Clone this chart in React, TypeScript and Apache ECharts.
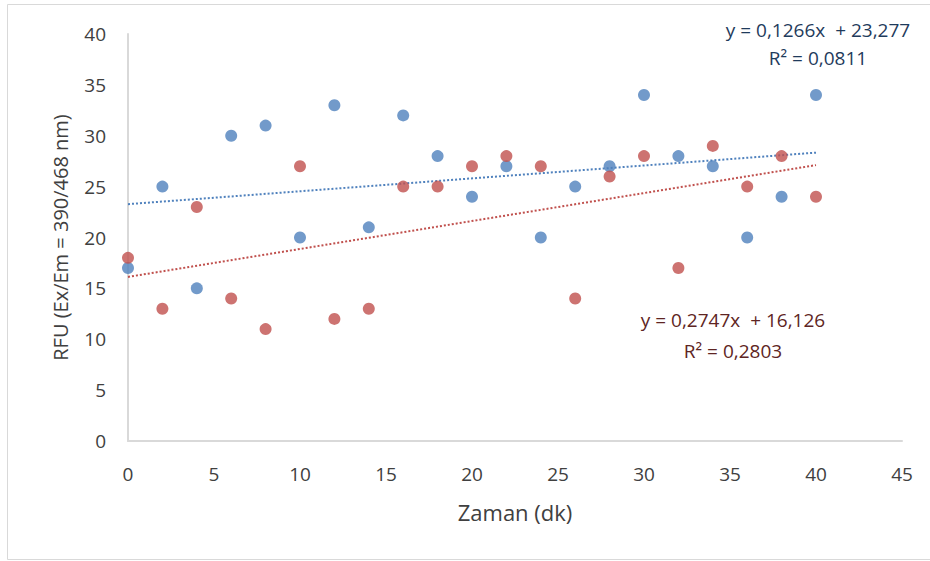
import React, { useEffect, useRef } from "react";
import * as echarts from "echarts";

// Sampling times (min)
const times = [0, 2, 4, 6, 8, 10, 12, 14, 16, 18, 20, 22, 24, 26, 28, 30, 32, 34, 36, 38, 40];
// Fluorescence readings for the two samples
const blueValues = [17, 25, 15, 30, 31, 20, 33, 21, 32, 28, 24, 27, 20, 25, 27, 34, 28, 27, 20, 24, 34];
const redValues = [18, 13, 23, 14, 11, 27, 12, 13, 25, 25, 27, 28, 27, 14, 26, 28, 17, 29, 25, 28, 24];
// Linear trend coefficients [slope, intercept, R²]
const blueTrend = [0.1266, 23.277, 0.0811];
const redTrend = [0.2747, 16.126, 0.2803];

const xTicks = { min: 0, max: 45, interval: 5 };
const yTicks = { min: 0, max: 40, interval: 5 };

const BLUE = "#4f81bd";
const RED = "#c0504d";
const FONT = "Open Sans";

const fmt = (v: number) => String(v).replace(".", ",");

const trendPoints = (t: number[]) => {
  const x0 = times[0];
  const x1 = times[times.length - 1];
  return [
    [x0, t[0] * x0 + t[1]],
    [x1, t[0] * x1 + t[1]],
  ];
};

const eqText = (text: string, x: number, y: number, fill: string) => ({
  type: "text",
  x,
  y,
  silent: true,
  style: {
    text,
    fontFamily: FONT,
    fontSize: 19,
    fill,
    align: "center",
    verticalAlign: "middle",
  },
});

export default function App() {
  const ref = useRef<HTMLDivElement>(null);

  useEffect(() => {
    if (!ref.current) return;
    const chart = echarts.init(ref.current, undefined, { renderer: "svg" });
    chart.setOption({
      animation: false,
      backgroundColor: "#ffffff",
      grid: { left: 128, right: 28, top: 34, bottom: 120 },
      xAxis: {
        type: "value",
        min: xTicks.min,
        max: xTicks.max,
        interval: xTicks.interval,
        name: "Zaman (dk)",
        nameLocation: "middle",
        nameGap: 60,
        nameTextStyle: { fontFamily: FONT, fontSize: 22, color: "#404040" },
        axisLine: { lineStyle: { color: "#d9d9d9", width: 2 } },
        axisTick: { show: false },
        splitLine: { show: false },
        axisLabel: { fontFamily: FONT, fontSize: 19, color: "#404040", margin: 23 },
      },
      yAxis: {
        type: "value",
        min: yTicks.min,
        max: yTicks.max,
        interval: yTicks.interval,
        name: "RFU (Ex/Em = 390/468 nm)",
        nameLocation: "middle",
        nameGap: 58,
        nameTextStyle: { fontFamily: FONT, fontSize: 20, color: "#404040" },
        axisLine: { show: true, lineStyle: { color: "#d9d9d9", width: 2 } },
        axisTick: { show: false },
        splitLine: { show: false },
        axisLabel: { fontFamily: FONT, fontSize: 19, color: "#404040", margin: 22 },
      },
      series: [
        {
          type: "line",
          data: trendPoints(blueTrend),
          symbol: "none",
          lineStyle: { color: BLUE, width: 2, type: [2, 2] },
          z: 1,
        },
        {
          type: "line",
          data: trendPoints(redTrend),
          symbol: "none",
          lineStyle: { color: RED, width: 2, type: [2, 2] },
          z: 1,
        },
        {
          type: "scatter",
          data: times.map((t, i) => [t, blueValues[i]]),
          symbolSize: 12,
          itemStyle: { color: BLUE },
          z: 3,
        },
        {
          type: "scatter",
          data: times.map((t, i) => [t, redValues[i]]),
          symbolSize: 12,
          itemStyle: { color: RED },
          z: 4,
        },
      ],
      graphic: [
        {
          type: "rect",
          silent: true,
          shape: { x: 7.5, y: 4.5, width: 940, height: 555 },
          style: { fill: "none", stroke: "#d9d9d9", lineWidth: 1 },
        },
        eqText(`y = ${fmt(blueTrend[0])}x  + ${fmt(blueTrend[1])}`, 818, 30, "#1f3b5c"),
        eqText(`R² = ${fmt(blueTrend[2])}`, 818, 58, "#1f3b5c"),
        eqText(`y = ${fmt(redTrend[0])}x  + ${fmt(redTrend[1])}`, 733, 320, "#5e2523"),
        eqText(`R² = ${fmt(redTrend[2])}`, 733, 351, "#5e2523"),
      ],
    });
    return () => chart.dispose();
  }, []);

  return (
    <div
      ref={ref}
      style={{ position: "fixed", left: 0, top: 0, width: 930, height: 561 }}
    />
  );
}
